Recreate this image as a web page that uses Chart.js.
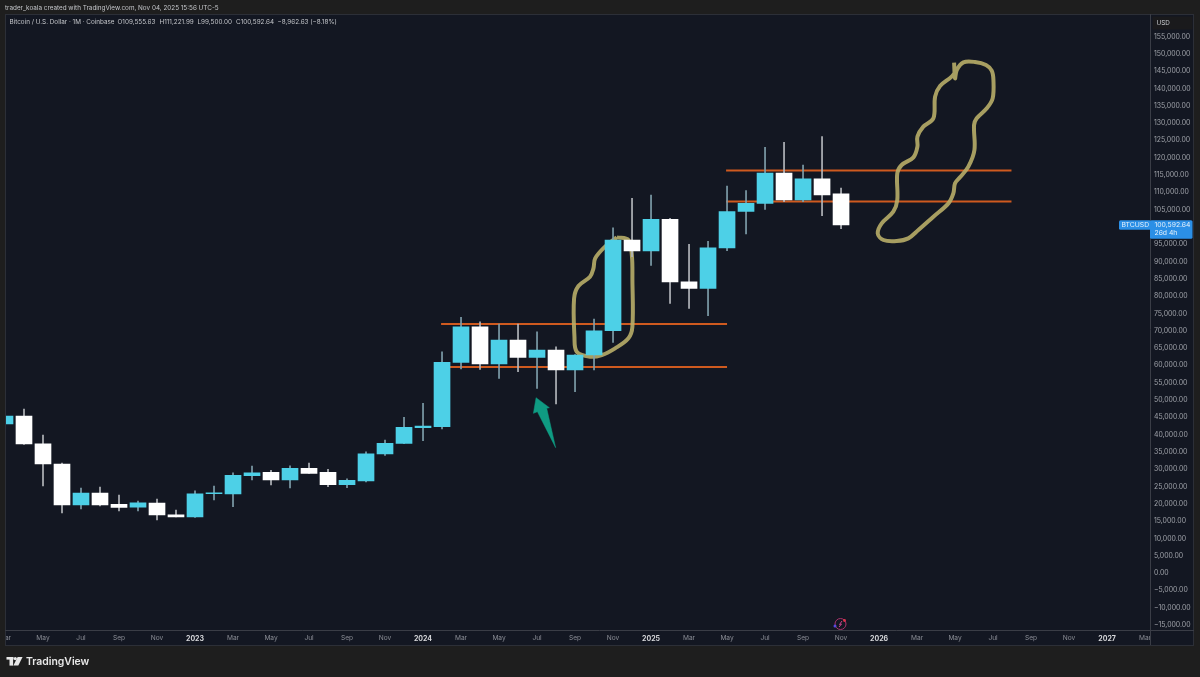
<!DOCTYPE html>
<html>
<head>
<meta charset="utf-8">
<title>BTCUSD 1M</title>
<script src="https://cdn.jsdelivr.net/npm/chart.js@4/dist/chart.umd.min.js"></script>
<style>
  html, body { margin: 0; padding: 0; background: #1e1e1e; }
  canvas { display: block; }
</style>
</head>
<body>
<canvas id="btcChart" width="1200" height="677"></canvas>
<script>
// monthly candles, Mar 2022 to Nov 2025, x is the month number from Mar 2022
var opens = [43050, 45360, 37300, 31500, 19650, 23117, 19853, 19000, 20230, 16850, 16184, 22900, 22828, 28115, 29097, 26873, 30253, 29097, 25515, 26584, 34384, 37475, 41982, 42270, 60876, 71161, 60385, 67319, 62321, 64430, 58652, 62985, 70006, 96209, 93031, 102189, 84160, 82255, 93955, 104442, 106811, 115565, 107765, 113918, 109555.63];
var highs = [48000, 47385, 39873, 31800, 24562, 24850, 22539, 20806, 21384, 18206, 23782, 25139, 28982, 30917, 29675, 31004, 31784, 29964, 27248, 35049, 38429, 44987, 49031, 63939, 73877, 72606, 71941, 71941, 69717, 65383, 63100, 73386, 99762, 108256, 109209, 102478, 94967, 95833, 111809, 110452, 122990, 124434, 117876, 126052, 111221.99];
var lows = [37500, 37150, 25139, 17339, 18495, 19361, 17917, 17917, 15317, 16184, 16100, 21095, 19159, 26873, 25428, 24562, 28750, 24937, 24648, 26300, 34009, 37400, 38227, 41607, 58941, 58854, 56254, 58161, 53365, 48829, 52383, 58652, 66654, 91384, 88900, 77921, 76477, 74339, 93118, 97942, 105078, 107274, 107274, 103229, 99500];
var closes = [45360, 37273, 31495, 19650, 23117, 19650, 18986, 20315, 16761, 16184, 22915, 23200, 28232, 28982, 26873, 30253, 28808, 25515, 26786, 34471, 37475, 42098, 42473, 60876, 71161, 60385, 67319, 62321, 64430, 58652, 62985, 70006, 96209, 93031, 102189, 84075, 82255, 93955, 104442, 106811, 115565, 107765, 113918, 109209, 100592.64];

// bottom axis, one label every second month from Mar 2022
var monthLabels = ['Mar', 'May', 'Jul', 'Sep', 'Nov', '2023', 'Mar', 'May', 'Jul', 'Sep', 'Nov', '2024', 'Mar', 'May', 'Jul', 'Sep', 'Nov', '2025', 'Mar', 'May', 'Jul', 'Sep', 'Nov', '2026', 'Mar', 'May', 'Jul', 'Sep', 'Nov', '2027', 'Mar'];
var priceTicks = [155000, 150000, 145000, 140000, 135000, 130000, 125000, 120000, 115000, 110000, 105000, 95000, 90000, 85000, 80000, 75000, 70000, 65000, 60000, 55000, 50000, 45000, 40000, 35000, 30000, 25000, 20000, 15000, 10000, 5000, 0, -5000, -10000, -15000];

// hand drawn marks, [month number, price]
var levelLowerLeft = [[23.42, 59519], [38, 59519]];
var levelUpperLeft = [[22.95, 71941], [38, 71941]];
var levelLowerRight = [[37.95, 107331], [52.97, 107331]];
var levelUpperRight = [[37.95, 116287], [52.97, 116287]];
var lassoLeft = [[32.2, 96979], [32.81, 96209], [32.99, 91875], [33.02, 84653], [33.02, 71171], [32.81, 67801], [32.11, 64912], [31.41, 62985], [30.79, 62504], [30.09, 63949], [29.97, 68282], [29.95, 79357], [30.18, 82919], [30.79, 85616], [30.97, 88024], [31.06, 90913], [31.58, 94283], [32.2, 96979]];
var lassoRight = [[49.95, 147441], [50, 142914], [50.09, 145322], [50.44, 147537], [51.05, 147633], [51.63, 146766], [51.93, 145129], [52.02, 142433], [51.98, 137137], [51.67, 134248], [51.14, 131359], [51, 129433], [51.02, 122210], [50.7, 117395], [50.26, 114313], [50, 112580], [49.91, 109691], [49.65, 106802], [48.86, 102950], [48.07, 99098], [47.54, 96690], [46.93, 95920], [46.23, 96209], [45.93, 98135], [46.14, 101024], [46.75, 104395], [46.96, 107765], [46.96, 115469], [47.19, 117877], [47.81, 120091], [48.02, 123173], [48.02, 126062], [48.33, 128951], [48.86, 131359], [48.95, 137618], [49.21, 140700], [49.82, 143396], [50.09, 145322]];
var arrowShape = [[27.95, 50659], [28.65, 47770], [28.51, 47578], [28.98, 36214], [28.02, 46614], [27.81, 46133], [27.95, 50659]];

var CYAN = '#4dd0e7';
var WHITE = '#ffffff';
var GREY = '#8b8e96';
var PANEL = '#131722';
var OUTER = '#1e1e1e';
var FONT = 'Inter, "Noto Sans", sans-serif';

function toPoints(list) {
    return list.map(function (p) { return { x: p[0], y: p[1] }; });
}
function fmt(v) {
    var s = Math.abs(v).toLocaleString('en-US', { minimumFractionDigits: 2, maximumFractionDigits: 2 });
    return (v < 0 ? '\u2212' : '') + s;
}
function levelLine(list) {
    return { type: 'scatter', showLine: true, data: toPoints(list), borderColor: '#cf5a1f', borderWidth: 2, pointRadius: 0, order: 5 };
}
function lasso(list) {
    return { type: 'scatter', showLine: true, data: toPoints(list), borderColor: 'rgba(184,173,104,0.9)', borderWidth: 4, pointRadius: 0, tension: 0.35, order: 4 };
}

var panelPlugin = {
    id: 'panel',
    beforeDraw: function (chart) {
        var c = chart.ctx;
        c.save();
        c.fillStyle = OUTER;
        c.fillRect(0, 0, 1200, 677);
        c.fillStyle = PANEL;
        c.fillRect(5, 14, 1189, 631);
        c.restore();
    },
    afterDraw: function (chart) {
        var c = chart.ctx;
        var y = chart.scales.y;
        var last = closes[closes.length - 1];
        var py = y.getPixelForValue(last);
        c.save();

        // clip the axis labels at both ends
        c.fillStyle = OUTER;
        c.fillRect(0, 625, 5, 25);
        c.fillStyle = PANEL;
        c.fillRect(1150.5, 631, 43, 14);

        // frame
        c.strokeStyle = '#2c2f37';
        c.lineWidth = 1;
        c.strokeRect(5.5, 14.5, 1188, 631);
        c.strokeStyle = '#3a3d46';
        c.beginPath();
        c.moveTo(1150.5, 14);
        c.lineTo(1150.5, 645);
        c.moveTo(5, 630.5);
        c.lineTo(1194, 630.5);
        c.stroke();

        // header texts
        c.textBaseline = 'middle';
        c.textAlign = 'left';
        c.font = '6.35px ' + FONT;
        c.fillStyle = '#c4c6ca';
        c.fillText('trader_koala created with TradingView.com, Nov 04, 2025 15:56 UTC-5', 5, 8);
        c.fillText('Bitcoin / U.S. Dollar \u00b7 1M \u00b7 Coinbase', 9.5, 22.5);
        c.fillText('O109,555.63', 117.5, 22.5);
        c.fillText('H111,221.99', 159.5, 22.5);
        c.fillText('L99,500.00', 197.5, 22.5);
        c.fillText('C100,592.64', 236, 22.5);
        c.fillText('\u22128,962.63 (\u22128.18%)', 277.5, 22.5);

        // USD box
        c.fillStyle = '#1a1a1c';
        c.fillRect(1152.5, 16.5, 40, 13);
        c.fillStyle = '#c9cbcf';
        c.fillText('USD', 1156.5, 23);

        // last price tag
        c.fillStyle = '#2b8fe6';
        c.beginPath();
        c.roundRect(1119, py - 4.5, 32, 9.5, 1.5);
        c.fill();
        c.beginPath();
        c.roundRect(1150, py - 4.5, 42.5, 18.5, 1.5);
        c.fill();
        c.fillStyle = '#e6f1fb';
        c.font = '6.8px ' + FONT;
        c.fillText('BTCUSD', 1121.5, py);
        c.fillText(fmt(last), 1154.5, py);
        c.fillText('26d 4h', 1154.5, py + 8);

        // event icon on the time axis
        c.strokeStyle = '#a8326b';
        c.lineWidth = 1;
        c.beginPath();
        c.arc(840.5, 624, 5.5, 0, Math.PI * 2);
        c.stroke();
        c.strokeStyle = '#c8458a';
        c.beginPath();
        c.moveTo(842, 621);
        c.lineTo(839.5, 624.5);
        c.lineTo(841.5, 624);
        c.lineTo(839, 627);
        c.stroke();
        c.fillStyle = '#e0334c';
        c.beginPath();
        c.arc(844.5, 620.5, 1.4, 0, Math.PI * 2);
        c.fill();
        c.fillStyle = '#5a49e0';
        c.beginPath();
        c.arc(835, 626, 1.5, 0, Math.PI * 2);
        c.fill();

        // TradingView logo
        c.fillStyle = '#e8e8e8';
        c.fillRect(6.5, 657, 7, 2.6);
        c.fillRect(9.5, 657, 3.6, 8.6);
        c.beginPath();
        c.arc(15.3, 658.6, 1.6, 0, Math.PI * 2);
        c.fill();
        c.beginPath();
        c.moveTo(17.6, 657);
        c.lineTo(22.6, 657);
        c.lineTo(18.3, 665.6);
        c.lineTo(13.4, 665.6);
        c.closePath();
        c.fill();
        c.textAlign = 'left';
        c.font = '600 10.4px ' + FONT;
        c.fillText('TradingView', 26, 661.5);
        c.restore();
    }
};

var ctx = document.getElementById('btcChart').getContext('2d');
var chart = new Chart(ctx, {
    data: {
        datasets: [
            {
                type: 'bar',
                data: closes.map(function (c, i) { return { x: i, y: [opens[i], c] }; }),
                backgroundColor: closes.map(function (c, i) { return c >= opens[i] ? CYAN : WHITE; }),
                barThickness: 16,
                grouped: false,
                order: 1
            },
            {
                type: 'bar',
                data: closes.map(function (c, i) { return { x: i, y: [lows[i], highs[i]] }; }),
                backgroundColor: closes.map(function (c, i) { return c >= opens[i] ? '#7f9fab' : '#b4b7bc'; }),
                barThickness: 1,
                grouped: false,
                order: 2
            },
            lasso(lassoLeft),
            lasso(lassoRight),
            levelLine(levelLowerLeft),
            levelLine(levelUpperLeft),
            levelLine(levelLowerRight),
            levelLine(levelUpperRight),
            {
                type: 'scatter',
                showLine: true,
                data: toPoints(arrowShape),
                borderColor: '#0f9b82',
                backgroundColor: '#0f9b82',
                borderWidth: 0.5,
                pointRadius: 0,
                fill: 'shape',
                order: 3
            }
        ]
    },
    options: {
        responsive: false,
        animation: false,
        layout: { padding: { left: 5, top: 14, right: 6, bottom: 31.5 } },
        plugins: { legend: { display: false }, tooltip: { enabled: false } },
        scales: {
            x: {
                type: 'linear',
                min: 0,
                max: 60.26,
                offset: false,
                grid: { display: false, drawTicks: false },
                border: { display: false },
                afterBuildTicks: function (s) {
                    s.ticks = monthLabels.map(function (l, i) { return { value: i * 2 }; });
                },
                afterFit: function (s) {
                    s.height = 15;
                    s.paddingLeft = 0;
                    s.paddingRight = 0;
                },
                ticks: {
                    autoSkip: false,
                    maxRotation: 0,
                    padding: 4,
                    color: function (c) { return c.index % 6 === 5 ? '#d6d7da' : GREY; },
                    font: function (c) {
                        return c.index % 6 === 5
                            ? { family: FONT, size: 7, weight: '700' }
                            : { family: FONT, size: 6.6 };
                    },
                    callback: function (v, i) { return monthLabels[i]; }
                }
            },
            y: {
                type: 'linear',
                position: 'right',
                min: -16600,
                max: 161500,
                grid: { display: false, drawTicks: false },
                border: { display: false },
                afterBuildTicks: function (s) {
                    s.ticks = priceTicks.map(function (v) { return { value: v }; });
                },
                afterFit: function (s) {
                    s.width = 44;
                    s.paddingTop = 0;
                    s.paddingBottom = 0;
                },
                ticks: {
                    autoSkip: false,
                    padding: 4,
                    color: '#a0a3aa',
                    font: { family: FONT, size: 6.9 },
                    callback: function (v) { return fmt(v); }
                }
            }
        }
    },
    plugins: [panelPlugin]
});
</script>
</body>
</html>
